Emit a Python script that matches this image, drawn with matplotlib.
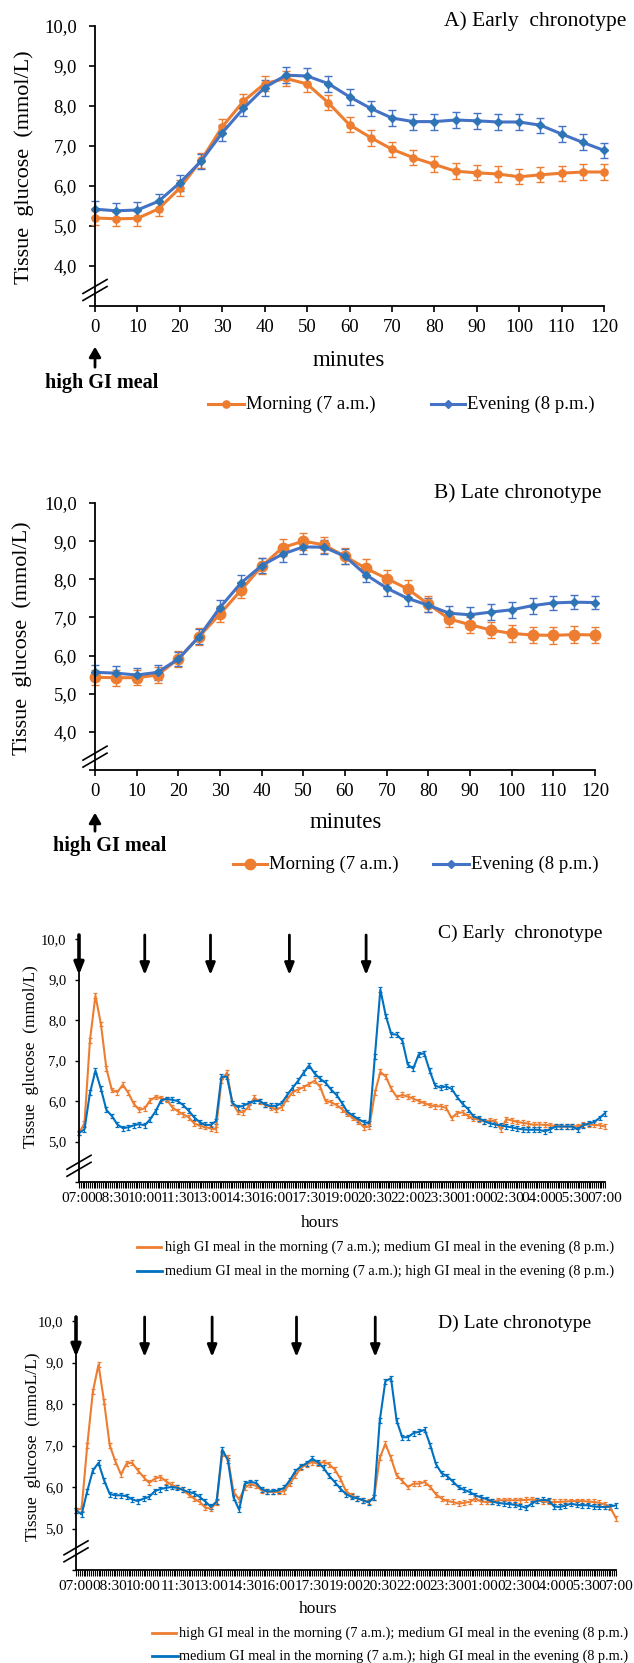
import numpy as np
import matplotlib

matplotlib.use("Agg")
import matplotlib.pyplot as plt
from matplotlib.lines import Line2D
import matplotlib.transforms as mtransforms

plt.rcParams["font.family"] = ["Liberation Serif", "DejaVu Serif"]

W, H = 634, 1663
ORANGE = "#ED7D31"
BLUE = "#4472C4"
BLUE_CD = "#0070C0"

# ---- panels A / B : minutes after the high GI meal ----
MINUTES = list(range(0, 125, 5))

A_MORNING = [5.20, 5.18, 5.19, 5.43, 5.95, 6.64, 7.48, 8.12, 8.56, 8.69, 8.55, 8.08, 7.53,
             7.21, 6.92, 6.71, 6.54, 6.37, 6.33, 6.30, 6.23, 6.28, 6.32, 6.35, 6.35]
A_MORNING_SE = [0.18, 0.18, 0.18, 0.18, 0.19, 0.18, 0.19, 0.19, 0.18, 0.18, 0.19, 0.19, 0.19,
                0.20, 0.19, 0.19, 0.20, 0.20, 0.19, 0.19, 0.19, 0.19, 0.19, 0.19, 0.19]
A_EVENING = [5.42, 5.38, 5.40, 5.62, 6.08, 6.62, 7.33, 7.94, 8.46, 8.77, 8.75, 8.56, 8.23,
             7.94, 7.70, 7.61, 7.61, 7.65, 7.63, 7.60, 7.60, 7.52, 7.30, 7.09, 6.89]
A_EVENING_SE = [0.20, 0.20, 0.20, 0.19, 0.20, 0.19, 0.20, 0.20, 0.20, 0.20, 0.20, 0.20, 0.20,
                0.19, 0.20, 0.20, 0.20, 0.20, 0.20, 0.20, 0.20, 0.19, 0.19, 0.20, 0.19]

B_MORNING = [5.43, 5.42, 5.42, 5.49, 5.91, 6.50, 7.09, 7.71, 8.34, 8.83, 9.00, 8.90, 8.60,
             8.29, 8.02, 7.75, 7.35, 6.96, 6.81, 6.67, 6.58, 6.54, 6.53, 6.55, 6.54]
B_MORNING_SE = [0.20, 0.21, 0.20, 0.21, 0.21, 0.21, 0.21, 0.21, 0.21, 0.23, 0.22, 0.22, 0.21,
                0.23, 0.22, 0.22, 0.21, 0.20, 0.21, 0.22, 0.23, 0.22, 0.23, 0.22, 0.22]
B_EVENING = [5.56, 5.54, 5.49, 5.56, 5.91, 6.50, 7.26, 7.90, 8.36, 8.66, 8.85, 8.84, 8.60,
             8.12, 7.77, 7.50, 7.32, 7.11, 7.07, 7.14, 7.20, 7.31, 7.38, 7.40, 7.39]
B_EVENING_SE = [0.19, 0.19, 0.18, 0.19, 0.19, 0.20, 0.21, 0.21, 0.20, 0.20, 0.19, 0.19, 0.19,
                0.20, 0.20, 0.20, 0.19, 0.20, 0.21, 0.20, 0.21, 0.21, 0.19, 0.19, 0.18]

# ---- panels C / D : 24 h profile, sampled every 15 min from 07:00 ----
HOURS = np.arange(0, 24.001, 0.25)
HOUR_TICKS = np.arange(0, 24.001, 1.5)
HOUR_LABELS = ["07:00", "08:30", "10:00", "11:30", "13:00", "14:30", "16:00", "17:30", "19:00",
               "20:30", "22:00", "23:30", "01:00", "02:30", "04:00", "05:30", "07:00"]
CD_SE = 0.06

C_HIGH_MORNING = [
    5.21, 5.45, 7.50, 8.60, 7.90, 6.80, 6.27, 6.22, 6.40, 6.20, 5.93, 5.78, 5.82, 6.02, 6.10, 6.07,
    6.03, 5.85, 5.75, 5.67, 5.60, 5.45, 5.39, 5.36, 5.32, 5.30, 6.50, 6.70, 5.95, 5.73, 5.72, 5.87,
    6.08, 5.98, 5.90, 5.85, 5.78, 5.85, 6.05, 6.22, 6.28, 6.34, 6.42, 6.50, 6.35, 6.00, 5.97, 5.90,
    5.80, 5.68, 5.58, 5.50, 5.35, 5.37, 6.20, 6.72, 6.60, 6.30, 6.10, 6.15, 6.11, 6.06, 6.00, 5.95,
    5.90, 5.87, 5.87, 5.83, 5.58, 5.70, 5.72, 5.63, 5.56, 5.54, 5.50, 5.52, 5.50, 5.30, 5.55, 5.52,
    5.48, 5.46, 5.44, 5.41, 5.42, 5.41, 5.40, 5.38, 5.37, 5.37, 5.37, 5.38, 5.41, 5.42, 5.41, 5.40,
    5.37]
C_HIGH_EVENING = [
    5.21, 5.30, 6.20, 6.75, 6.30, 5.78, 5.63, 5.42, 5.33, 5.35, 5.40, 5.43, 5.40, 5.55, 5.75, 6.02,
    6.05, 6.03, 6.00, 5.90, 5.76, 5.60, 5.48, 5.41, 5.41, 5.50, 6.60, 6.60, 5.95, 5.85, 5.88, 5.95,
    6.00, 6.00, 5.91, 5.88, 5.88, 5.95, 6.15, 6.33, 6.50, 6.70, 6.88, 6.68, 6.55, 6.45, 6.28, 6.15,
    5.95, 5.73, 5.64, 5.55, 5.48, 5.45, 7.10, 8.75, 8.10, 7.65, 7.64, 7.50, 6.90, 6.80, 7.15, 7.18,
    6.75, 6.38, 6.33, 6.36, 6.30, 6.10, 5.93, 5.80, 5.62, 5.57, 5.50, 5.45, 5.42, 5.40, 5.37, 5.35,
    5.32, 5.30, 5.29, 5.29, 5.29, 5.25, 5.30, 5.37, 5.37, 5.37, 5.37, 5.30, 5.40, 5.44, 5.48, 5.58,
    5.70]

D_HIGH_MORNING = [
    5.44, 5.48, 7.00, 8.30, 8.95, 8.05, 7.00, 6.62, 6.30, 6.57, 6.58, 6.40, 6.24, 6.10, 6.20, 6.24,
    6.14, 6.05, 6.00, 5.93, 5.82, 5.72, 5.64, 5.50, 5.48, 5.62, 6.80, 6.70, 5.88, 5.70, 5.98, 6.07,
    6.03, 5.92, 5.89, 5.88, 5.88, 5.90, 6.08, 6.28, 6.46, 6.55, 6.60, 6.56, 6.60, 6.55, 6.42, 6.20,
    5.90, 5.80, 5.73, 5.68, 5.64, 5.75, 6.70, 7.04, 6.70, 6.28, 6.15, 6.00, 6.08, 6.08, 6.12, 6.00,
    5.82, 5.72, 5.66, 5.64, 5.60, 5.62, 5.64, 5.72, 5.65, 5.64, 5.64, 5.68, 5.68, 5.68, 5.68, 5.68,
    5.69, 5.70, 5.68, 5.65, 5.64, 5.64, 5.64, 5.65, 5.66, 5.66, 5.66, 5.65, 5.64, 5.62, 5.58, 5.50,
    5.25]
D_HIGH_EVENING = [
    5.44, 5.34, 5.90, 6.40, 6.58, 6.16, 5.83, 5.80, 5.80, 5.78, 5.70, 5.66, 5.72, 5.76, 5.90, 5.95,
    5.98, 6.00, 5.98, 5.93, 5.88, 5.85, 5.76, 5.65, 5.52, 5.65, 6.90, 6.65, 5.75, 5.45, 6.08, 6.12,
    6.10, 5.95, 5.89, 5.90, 5.92, 5.98, 6.16, 6.38, 6.50, 6.57, 6.68, 6.60, 6.46, 6.27, 6.12, 5.96,
    5.83, 5.76, 5.73, 5.68, 5.63, 5.75, 7.60, 8.55, 8.62, 7.60, 7.20, 7.20, 7.30, 7.33, 7.38, 7.00,
    6.55, 6.33, 6.26, 6.13, 6.00, 5.93, 5.88, 5.80, 5.75, 5.71, 5.65, 5.62, 5.60, 5.59, 5.57, 5.54,
    5.50, 5.60, 5.67, 5.69, 5.68, 5.53, 5.52, 5.55, 5.60, 5.57, 5.56, 5.56, 5.53, 5.52, 5.52, 5.53,
    5.56]

# meal arrows (hours after 07:00)
C_MEALS = [0.0, 3.0, 6.0, 9.6, 13.1]
D_MEALS = [0.0, 3.05, 6.05, 9.8, 13.3]

LEG_AB = ["Morning (7 a.m.)", "Evening (8 p.m.)"]
LEG_CD = ["high GI meal in the morning (7 a.m.); medium GI meal in the evening (8 p.m.)",
          "medium GI meal in the morning (7 a.m.); high GI meal in the evening (8 p.m.)"]


def fx(px):
    return px / W


def fy(py):
    return 1 - py / H


def add_axes(fig, box):
    left, top, right, bottom = box
    ax = fig.add_axes([fx(left), fy(bottom), (right - left) / W, (bottom - top) / H])
    for side in ("top", "right"):
        ax.spines[side].set_visible(False)
    for side in ("left", "bottom"):
        ax.spines[side].set_linewidth(1.3)
    return ax


def no_clip(container):
    for art in container.get_children():
        art.set_clip_on(False)


def break_marks(ax, box, yval, ylim):
    left, top, right, bottom = box
    wpx, hpx = right - left, bottom - top
    yf = (yval - ylim[0]) / (ylim[1] - ylim[0])
    for off in (-3.5, 3.5):
        xs = [-12 / wpx, 12 / wpx]
        ys = [yf + (off - 7) / hpx, yf + (off + 7) / hpx]
        ax.plot(xs, ys, transform=ax.transAxes, color="black", lw=1.2, clip_on=False)


def legend_line(fig, x0, x1, y, color, lw, marker=None, ms=0):
    fig.add_artist(Line2D([fx(x0), fx(x1)], [fy(y), fy(y)], color=color, lw=lw))
    if marker:
        fig.add_artist(Line2D([fx((x0 + x1) / 2)], [fy(y)], color=color, marker=marker,
                              ms=ms, lw=0))


def minutes_panel(fig, box, morning, m_se, evening, e_se, m_ms, brk):
    ax = add_axes(fig, box)
    c1 = ax.errorbar(MINUTES, morning, yerr=m_se, color=ORANGE, marker="o", ms=m_ms, lw=2.2,
                     capsize=2.6, elinewidth=1.0, capthick=1.0)
    c2 = ax.errorbar(MINUTES, evening, yerr=e_se, color=BLUE, marker="D", ms=3.6, lw=2.2,
                     mfc="#2E75B6", mec="#2E75B6", capsize=2.6, elinewidth=1.0, capthick=1.0)
    no_clip(c1)
    no_clip(c2)
    ax.set_xlim(0, 120)
    ax.set_ylim(3, 10)
    ax.set_xticks(range(0, 121, 10))
    ax.set_yticks(range(3, 11))
    ax.set_yticklabels([""] + [f"{v},0" for v in range(4, 11)])
    ax.tick_params(axis="both", direction="out", length=4, width=1.2, labelsize=13.5)
    ax.tick_params(axis="y", pad=9)
    ax.tick_params(axis="x", pad=5)
    break_marks(ax, box, brk, (3, 10))
    return ax


def hours_panel(fig, box, high_morning, high_evening, meals, brk, tick_fs):
    ax = add_axes(fig, box)
    c1 = ax.errorbar(HOURS, high_morning, yerr=CD_SE, color=ORANGE, lw=1.5, capsize=1.6,
                     elinewidth=0.9, capthick=0.9)
    c2 = ax.errorbar(HOURS, high_evening, yerr=CD_SE, color=BLUE_CD, lw=1.5, capsize=1.6,
                     elinewidth=0.9, capthick=0.9)
    no_clip(c1)
    no_clip(c2)
    ax.set_xlim(0, 24)
    ax.set_ylim(4, 10)
    ax.set_xticks(HOUR_TICKS)
    ax.set_xticklabels(HOUR_LABELS)
    ax.set_xticks(np.arange(0, 24.001, 1 / 12), minor=True)
    ax.set_yticks(range(4, 11))
    ax.set_yticklabels([""] + [f"{v},0" for v in range(5, 11)])
    ax.tick_params(axis="x", which="both", direction="out", length=4, width=0.8,
                   labelsize=tick_fs, pad=3)
    ax.tick_params(axis="y", direction="out", length=3, width=1.0, labelsize=10.5, pad=6)
    break_marks(ax, box, brk, (4, 10))
    trans = mtransforms.blended_transform_factory(ax.transData, ax.transAxes)
    left, top, right, bottom = box
    hpx = bottom - top
    for i, m in enumerate(meals):
        ax.annotate("", xy=(m, 1 - 36 / hpx), xytext=(m, 1 + 4 / hpx), xycoords=trans,
                    textcoords=trans, annotation_clip=False,
                    arrowprops=dict(arrowstyle="-|>,head_length=0.7,head_width=0.28",
                                    color="black", lw=2.6 if i == 0 else 2.0,
                                    shrinkA=0, shrinkB=0))
    return ax


fig = plt.figure(figsize=(W / 100, H / 100), dpi=100)

# ---------------- A ----------------
BOX_A = (95, 26, 604, 306)
minutes_panel(fig, BOX_A, A_MORNING, A_MORNING_SE, A_EVENING, A_EVENING_SE, 5.2, 3.4)
fig.text(fx(626), fy(21), "A) Early  chronotype", ha="right", va="center", fontsize=15.5)
fig.text(fx(24), fy(167), "Tissue  glucose  (mmol/L)", rotation=90, ha="center", va="center",
         fontsize=16)
fig.text(fx(349), fy(360), "minutes", ha="center", va="center", fontsize=16.5)
fig.add_artist(matplotlib.patches.FancyArrowPatch((fx(95), fy(370)), (fx(95), fy(344)),
               transform=fig.transFigure, arrowstyle="-|>,head_length=6,head_width=3.5",
               color="black", lw=2))
fig.text(fx(45), fy(383), "high GI meal", ha="left", va="center", fontsize=14.5,
         fontweight="bold")
legend_line(fig, 208, 244, 404, ORANGE, 2.2, "o", 5.2)
fig.text(fx(246), fy(404), LEG_AB[0], ha="left", va="center", fontsize=13.5)
legend_line(fig, 431, 465, 404, BLUE, 2.2, "D", 3.6)
fig.text(fx(467), fy(404), LEG_AB[1], ha="left", va="center", fontsize=13.5)

# ---------------- B ----------------
BOX_B = (95, 503, 595, 770)
minutes_panel(fig, BOX_B, B_MORNING, B_MORNING_SE, B_EVENING, B_EVENING_SE, 7.5, 3.35)
fig.text(fx(602), fy(493), "B) Late chronotype", ha="right", va="center", fontsize=15.5)
fig.text(fx(22), fy(638), "Tissue  glucose  (mmol/L)", rotation=90, ha="center", va="center",
         fontsize=16)
fig.text(fx(346), fy(822), "minutes", ha="center", va="center", fontsize=16.5)
fig.add_artist(matplotlib.patches.FancyArrowPatch((fx(95), fy(834)), (fx(95), fy(810)),
               transform=fig.transFigure, arrowstyle="-|>,head_length=6,head_width=3.5",
               color="black", lw=2))
fig.text(fx(53), fy(846), "high GI meal", ha="left", va="center", fontsize=14.5,
         fontweight="bold")
legend_line(fig, 233, 267, 864, ORANGE, 2.2, "o", 7.5)
fig.text(fx(269), fy(864), LEG_AB[0], ha="left", va="center", fontsize=13.5)
legend_line(fig, 433, 469, 864, BLUE, 2.2, "D", 3.6)
fig.text(fx(471), fy(864), LEG_AB[1], ha="left", va="center", fontsize=13.5)

# ---------------- C ----------------
BOX_C = (79, 939, 605, 1182)
hours_panel(fig, BOX_C, C_HIGH_MORNING, C_HIGH_EVENING, C_MEALS, 4.4, 11)
fig.text(fx(602), fy(933), "C) Early  chronotype", ha="right", va="center", fontsize=14)
fig.text(fx(31), fy(1057), "Tissue  glucose  (mmol/L)", rotation=90, ha="center", va="center",
         fontsize=12.5)
fig.text(fx(320), fy(1223), "hours", ha="center", va="center", fontsize=12.5)
legend_line(fig, 137, 161, 1247, ORANGE, 2.0)
fig.text(fx(165), fy(1247), LEG_CD[0], ha="left", va="center", fontsize=10.3)
legend_line(fig, 137, 162, 1271, BLUE_CD, 2.0)
fig.text(fx(165), fy(1271), LEG_CD[1], ha="left", va="center", fontsize=10.3)

# ---------------- D ----------------
BOX_D = (76, 1321, 616, 1570)
hours_panel(fig, BOX_D, D_HIGH_MORNING, D_HIGH_EVENING, D_MEALS, 4.45, 11)
fig.text(fx(591), fy(1323), "D) Late chronotype", ha="right", va="center", fontsize=14)
fig.text(fx(33), fy(1447), "Tissue  glucose  (mmoL/L)", rotation=90, ha="center", va="center",
         fontsize=12.5)
fig.text(fx(318), fy(1609), "hours", ha="center", va="center", fontsize=12.5)
legend_line(fig, 152, 176, 1633, ORANGE, 2.0)
fig.text(fx(179), fy(1633), LEG_CD[0], ha="left", va="center", fontsize=10.3)
legend_line(fig, 152, 178, 1656, BLUE_CD, 2.0)
fig.text(fx(179), fy(1656), LEG_CD[1], ha="left", va="center", fontsize=10.3)

fig.savefig("out.png", dpi=100)
